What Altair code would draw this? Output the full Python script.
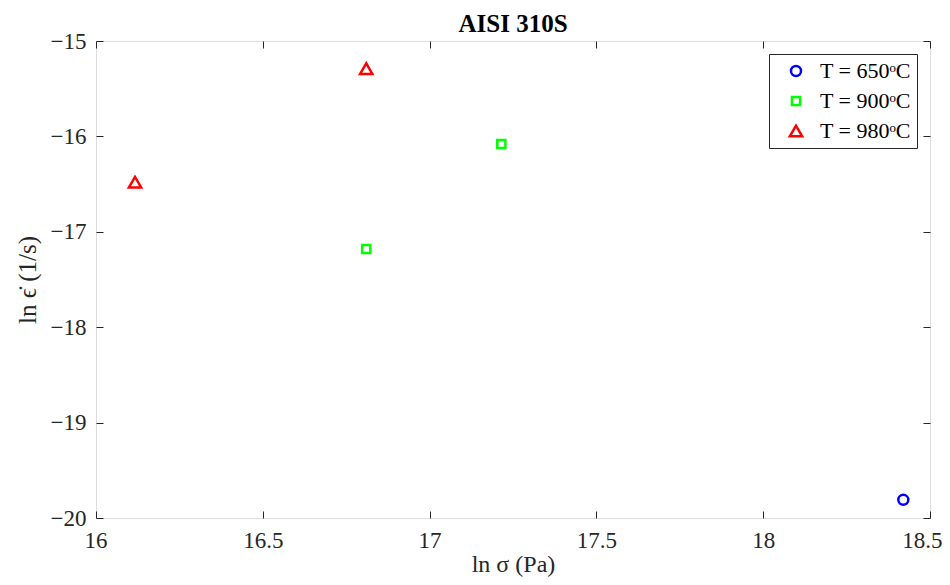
import altair as alt
import pandas as pd

series = ["T = 650ᵒC", "T = 900ᵒC", "T = 980ᵒC"]
colors = ["#0000FF", "#00FF00", "#FF0000"]
shapes = ["circle", "square", "triangle-up"]
sizes = [100, 66, 150]

x650 = [18.42]
y650 = [-19.81]
x900 = [16.81, 17.215]
y900 = [-17.18, -16.08]
x980 = [16.117, 16.81]
y980 = [-16.48, -15.29]

x_ticks = [16, 16.5, 17, 17.5, 18, 18.5]
y_ticks = [-20, -19, -18, -17, -16, -15]

rows = []
for name, xs, ys in zip(series, [x650, x900, x980], [y650, y900, y980]):
    for xv, yv in zip(xs, ys):
        rows.append({"x": xv, "y": yv, "series": name})
df = pd.DataFrame(rows)

FONT = "Liberation Serif, DejaVu Serif, serif"
AX = "#262626"
TICK = 7

xscale = alt.Scale(domain=[16, 18.5], nice=False, zero=False)
yscale = alt.Scale(domain=[-20, -15], nice=False, zero=False)

legend = alt.Legend(
    title=None, orient="top-right", offset=13,
    fillColor="white", strokeColor=AX, padding=6,
    labelFont=FONT, labelFontSize=22, labelColor="black",
    symbolOffset=10, labelOffset=13, rowPadding=8,
    symbolStrokeWidth=2.5,
)

points = alt.Chart(df).mark_point(filled=False, strokeWidth=2.5, opacity=1).encode(
    x=alt.X("x:Q", scale=xscale, axis=alt.Axis(
        orient="bottom", values=x_ticks, offset=-TICK, tickSize=TICK, format="~g",
        tickColor=AX, domain=False, grid=False, labelPadding=11,
        labelFont=FONT, labelFontSize=23, labelColor=AX,
        labelFlush=1, labelFlushOffset=12,
        title="ln σ (Pa)", titleFont=FONT, titleFontSize=24,
        titleFontWeight="normal", titleColor=AX, titlePadding=0)),
    y=alt.Y("y:Q", scale=yscale, axis=alt.Axis(
        orient="left", values=y_ticks, offset=-TICK, tickSize=TICK, format="~g",
        tickColor=AX, domain=False, grid=False, labelPadding=10,
        labelFont=FONT, labelFontSize=23, labelColor=AX, labelFlush=False,
        title="ln ϵ̇ (1/s)", titleFont=FONT, titleFontSize=25,
        titleFontWeight="normal", titleColor=AX, titlePadding=10)),
    color=alt.Color("series:N", scale=alt.Scale(domain=series, range=colors), legend=legend),
    shape=alt.Shape("series:N", scale=alt.Scale(domain=series, range=shapes), legend=legend),
    size=alt.Size("series:O", scale=alt.Scale(type="ordinal", domain=series, range=sizes), legend=legend),
)

frame = alt.Chart(df).mark_point(opacity=0).encode(
    x=alt.X("x:Q", scale=xscale, axis=alt.Axis(
        orient="top", values=x_ticks, offset=-TICK, tickSize=TICK,
        tickColor=AX, domain=False, grid=False, labels=False, title=None)),
    y=alt.Y("y:Q", scale=yscale, axis=alt.Axis(
        orient="right", values=y_ticks, offset=-TICK, tickSize=TICK,
        tickColor=AX, domain=False, grid=False, labels=False, title=None)),
)

chart = alt.layer(points, frame).resolve_axis(
    x="independent", y="independent"
).properties(
    width=834, height=477,
    title=alt.TitleParams("AISI 310S", font=FONT, fontSize=25, fontWeight="bold",
                          color="black", offset=-7, anchor="middle"),
    autosize=alt.AutoSizeParams(type="none"),
    padding={"left": 88, "top": 33, "right": 12, "bottom": 59},
).configure_view(stroke=AX, strokeWidth=1.2).configure_axis(grid=False).configure(background="white")

chart.save("out.html", embed_options={"renderer": "svg", "actions": False})
